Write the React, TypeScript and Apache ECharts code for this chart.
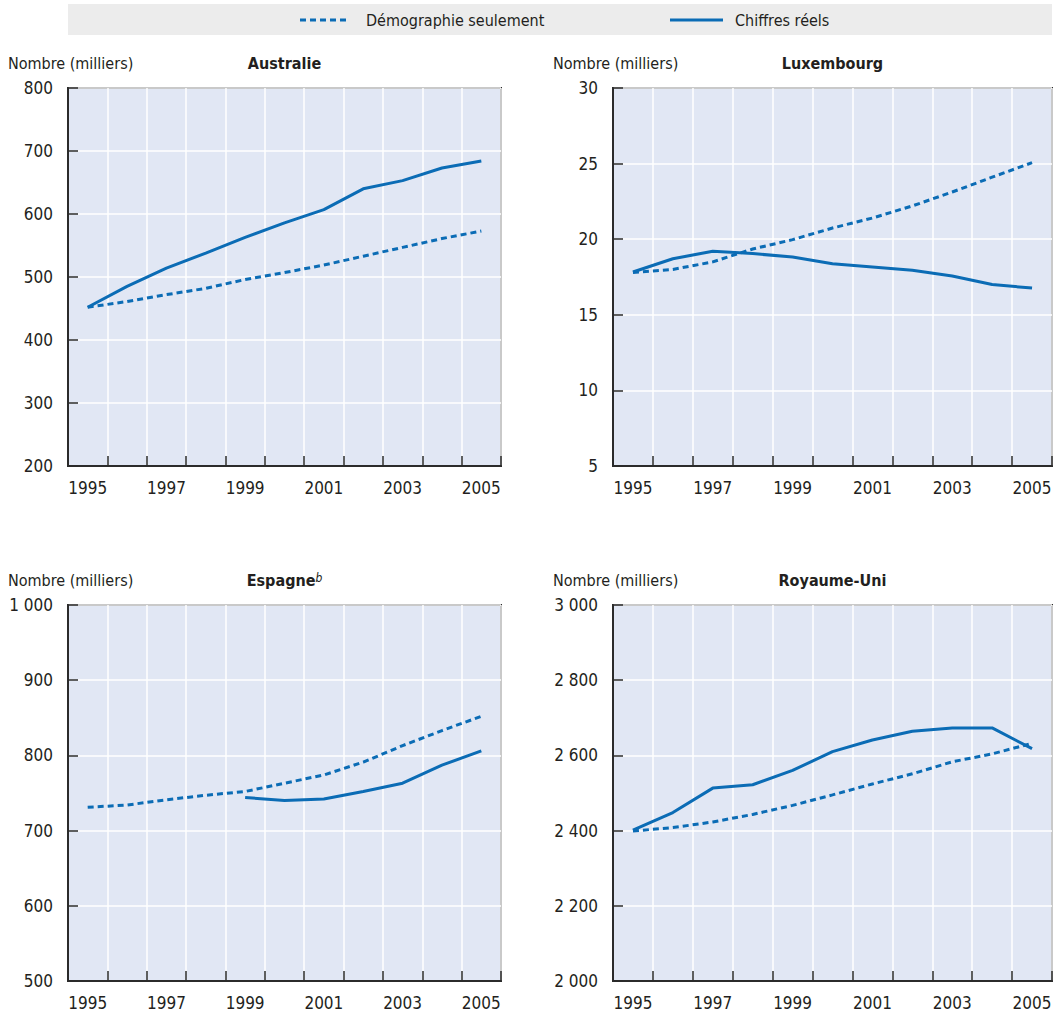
import React, { useEffect, useRef } from "react";
import * as echarts from "echarts";

const years = ["1995", "1996", "1997", "1998", "1999", "2000", "2001", "2002", "2003", "2004", "2005"];

const ausDemo = [452, 461, 472, 482, 496, 507, 519, 533, 547, 561, 573];
const ausReal = [452, 485, 514, 538, 563, 586, 607, 640, 653, 673, 684];

const luxDemo = [17.8, 18.0, 18.5, 19.35, 19.97, 20.74, 21.4, 22.2, 23.12, 24.1, 25.06];
const luxReal = [17.83, 18.71, 19.2, 19.05, 18.82, 18.38, 18.16, 17.94, 17.57, 17.0, 16.77];

const espDemo = [731, 734, 741, 747, 752, 763, 774, 791, 813, 833, 852];
const espReal = [null, null, null, null, 744, 740, 742, 752, 763, 787, 806];

const ukDemo = [2399, 2408, 2423, 2443, 2467, 2495, 2524, 2551, 2583, 2604, 2632];
const ukReal = [2401, 2448, 2513, 2522, 2560, 2610, 2641, 2664, 2673, 2673, 2618];

const panelTitles = ["Australie", "Luxembourg", "{t|Espagne}{s|b}", "Royaume-Uni"];
const yUnit = "Nombre (milliers)";
const seriesNames = ["Démographie seulement", "Chiffres réels"];

const yRanges = [
  { min: 200, max: 800, interval: 100 },
  { min: 5, max: 30, interval: 5 },
  { min: 500, max: 1000, interval: 100 },
  { min: 2000, max: 3000, interval: 200 },
];

const FONT = "'DejaVu Sans Condensed', 'Liberation Sans Narrow', sans-serif";
const BLUE = "#0b6cb5";
const TEXT = "#231f20";
const DASH = [6, 4];

function fmtThousands(v: number) {
  const s = String(Math.round(v));
  return s.replace(/\B(?=(\d{3})+(?!\d))/g, " ");
}

export default function App() {
  const ref = useRef<HTMLDivElement>(null);

  useEffect(() => {
    document.body.style.margin = "0";
    if (!ref.current) return;
    const chart = echarts.init(ref.current, undefined, { renderer: "svg" });

    const grids = [
      { left: 68, top: 88, width: 433, height: 378 },
      { left: 613, top: 88, width: 439, height: 378 },
      { left: 68, top: 605, width: 433, height: 378 },
      { left: 613, top: 605, width: 439, height: 378 },
    ];

    const data = [
      [ausDemo, ausReal],
      [luxDemo, luxReal],
      [espDemo, espReal],
      [ukDemo, ukReal],
    ];

    const series: any[] = [];
    data.forEach((pair, i) => {
      series.push({
        name: seriesNames[0],
        type: "line",
        xAxisIndex: i,
        yAxisIndex: i,
        data: pair[0],
        symbol: "none",
        lineStyle: { color: BLUE, width: 3, type: DASH },
        itemStyle: { color: BLUE },
        z: 3,
      });
      series.push({
        name: seriesNames[1],
        type: "line",
        xAxisIndex: i,
        yAxisIndex: i,
        data: pair[1],
        symbol: "none",
        connectNulls: false,
        lineStyle: { color: BLUE, width: 3, type: "solid" },
        itemStyle: { color: BLUE },
        z: 4,
      });
    });

    const legendY = 20;
    const graphic: any[] = [
      {
        type: "rect",
        shape: { x: 68, y: 4, width: 984, height: 31 },
        style: { fill: "#ececec" },
        z: -10,
      },
      {
        type: "line",
        shape: { x1: 300, y1: legendY, x2: 346, y2: legendY },
        style: { stroke: BLUE, lineWidth: 3, lineDash: DASH },
      },
      {
        type: "text",
        x: 366,
        y: legendY,
        style: {
          text: seriesNames[0],
          fontFamily: FONT,
          fontSize: 16,
          fill: TEXT,
          align: "left",
          verticalAlign: "middle",
          textAlign: "left",
          textVerticalAlign: "middle",
        },
      },
      {
        type: "line",
        shape: { x1: 670, y1: legendY, x2: 723, y2: legendY },
        style: { stroke: BLUE, lineWidth: 3 },
      },
      {
        type: "text",
        x: 735,
        y: legendY,
        style: {
          text: seriesNames[1],
          fontFamily: FONT,
          fontSize: 16,
          fill: TEXT,
          align: "left",
          verticalAlign: "middle",
          textAlign: "left",
          textVerticalAlign: "middle",
        },
      },
    ];
    grids.forEach((g, i) => {
      const ty = i < 2 ? 63 : 580;
      graphic.push({
        type: "text",
        x: g.left + g.width / 2,
        y: ty,
        style: {
          text: panelTitles[i],
          fontFamily: FONT,
          fontSize: 16,
          fontWeight: "bold",
          fill: TEXT,
          align: "center",
          verticalAlign: "middle",
          textAlign: "center",
          textVerticalAlign: "middle",
          rich: {
            t: { fontFamily: FONT, fontSize: 16, fontWeight: "bold", fill: TEXT, color: TEXT },
            s: { fontFamily: FONT, fontSize: 12, fontStyle: "italic", fontWeight: "normal", fill: TEXT, color: TEXT, verticalAlign: "top" },
          },
        },
      });
      graphic.push({
        type: "text",
        x: i % 2 === 0 ? 8 : 553,
        y: ty,
        style: {
          text: yUnit,
          fontFamily: FONT,
          fontSize: 16,
          fill: TEXT,
          align: "left",
          verticalAlign: "middle",
          textAlign: "left",
          textVerticalAlign: "middle",
        },
      });
    });

    chart.setOption({
      animation: false,
      backgroundColor: "#ffffff",
      textStyle: { fontFamily: FONT, color: TEXT },
      grid: grids.map((g) => ({
        ...g,
        show: true,
        backgroundColor: "#e1e7f4",
        borderColor: "#2b2b2b",
        borderWidth: 2,
        containLabel: false,
        z: 0,
      })),
      xAxis: grids.map((_, i) => ({
        type: "category",
        gridIndex: i,
        data: years,
        boundaryGap: true,
        axisLine: { show: true, lineStyle: { color: "#2b2b2b", width: 2 } },
        axisTick: { show: true, inside: true, length: 10, interval: 0, lineStyle: { color: "#2b2b2b", width: 1.5 } },
        axisLabel: { show: true, interval: 1, margin: 13, fontFamily: FONT, fontSize: 17, color: TEXT },
        splitLine: { show: true, interval: 0, lineStyle: { color: "#ffffff", width: 1.5 } },
      })),
      yAxis: grids.map((_, i) => ({
        type: "value",
        gridIndex: i,
        min: yRanges[i].min,
        max: yRanges[i].max,
        interval: yRanges[i].interval,
        axisLine: { show: true, lineStyle: { color: "#2b2b2b", width: 2 } },
        axisTick: { show: true, inside: true, length: 10, lineStyle: { color: "#2b2b2b", width: 1.5 } },
        axisLabel: {
          show: true,
          margin: 15,
          fontFamily: FONT,
          fontSize: 17,
          color: TEXT,
          formatter: (v: number) => fmtThousands(v),
        },
        splitLine: { show: true, lineStyle: { color: "#ffffff", width: 1.5 } },
      })),
      series,
      graphic,
    });

    return () => chart.dispose();
  }, []);

  return <div ref={ref} style={{ width: 1057, height: 1011 }} />;
}
